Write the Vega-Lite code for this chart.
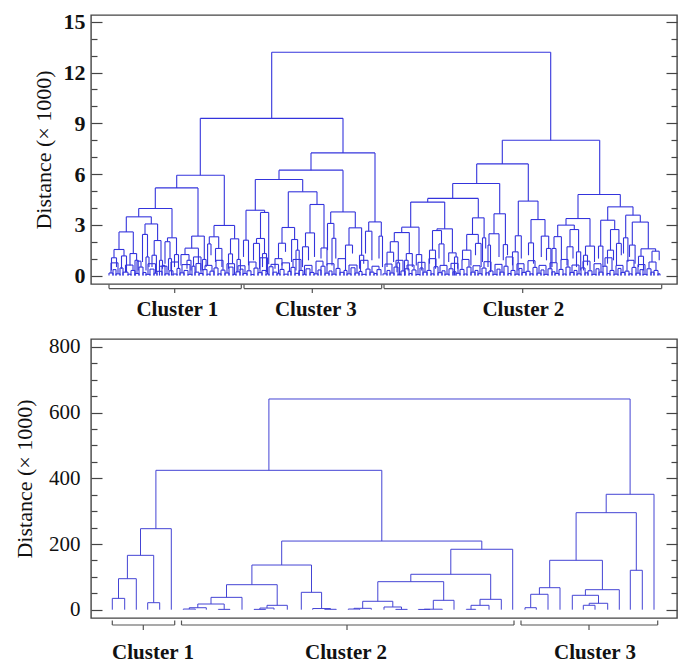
{
"$schema": "https://vega.github.io/schema/vega-lite/v6.json",
"padding": {"left": 12, "top": 10, "right": 0, "bottom": 0},
"background": "white",
"spacing": 55,
"bounds": "flush",
"config": {
  "view": {"stroke": "#444", "strokeWidth": 1.4},
  "axis": {"grid": false, "domain": false, "tickColor": "#444", "tickWidth": 1.2, "labelColor": "#111", "titleColor": "#111", "labelFont": "Liberation Serif", "titleFont": "Liberation Serif"}
},
"datasets": {
  "top": [
{"l":272.7,"r":551.7,"h":13.2,"a":9.29,"b":8.0},
{"l":201.3,"r":344,"h":9.29,"a":5.93,"b":7.25},
{"l":177.7,"r":225.3,"h":5.93,"a":5.18,"b":2.96},
{"l":156.3,"r":199,"h":5.18,"a":3.96,"b":2.33},
{"l":139.7,"r":173,"h":3.96,"a":3.47,"b":2.23},
{"l":127.3,"r":152.3,"h":3.47,"a":2.58,"b":3.05},
{"l":120,"r":134.3,"h":2.58,"a":1.54,"b":1.3},
{"l":115,"r":125,"h":1.54,"a":1.05,"b":1.16},
{"l":112.5,"r":117.5,"h":1.05,"a":0.3,"b":0.5},
{"l":122.5,"r":127.5,"h":1.16,"a":0.4,"b":0.2},
{"l":131,"r":137.6,"h":1.3,"a":0.6,"b":0.9},
{"l":136,"r":139.2,"h":0.9,"a":0,"b":0.3},
{"l":146,"r":158.6,"h":3.05,"a":2.43,"b":2.07},
{"l":143.5,"r":148.5,"h":2.43,"a":0.8,"b":1.1},
{"l":147,"r":150,"h":1.1,"a":0.3,"b":0.5},
{"l":155.2,"r":162,"h":2.07,"a":1.2,"b":0.9},
{"l":153,"r":157.4,"h":1.2,"a":0.5,"b":0.2},
{"l":160.5,"r":163.5,"h":0.9,"a":0,"b":0.4},
{"l":168.5,"r":177.5,"h":2.23,"a":2.0,"b":1.24},
{"l":166,"r":171,"h":2.0,"a":0.7,"b":1.0},
{"l":169.5,"r":172.5,"h":1.0,"a":0.3,"b":0},
{"l":175.5,"r":179.5,"h":1.24,"a":0.5,"b":0.8},
{"l":192.7,"r":205.3,"h":2.33,"a":1.62,"b":0.95},
{"l":186,"r":199.4,"h":1.62,"a":1.24,"b":0.71},
{"l":182,"r":190,"h":1.24,"a":0.6,"b":0.9},
{"l":188,"r":192,"h":0.9,"a":0.4,"b":0.3},
{"l":197,"r":201.8,"h":0.71,"a":0.2,"b":0.3},
{"l":203.5,"r":207.1,"h":0.95,"a":0.3,"b":0.5},
{"l":215,"r":235.6,"h":2.96,"a":2.29,"b":2.17},
{"l":210.3,"r":219.7,"h":2.29,"a":1.87,"b":1.6},
{"l":208.6,"r":212,"h":1.87,"a":0.6,"b":1.2},
{"l":216.5,"r":222.9,"h":1.6,"a":0.8,"b":0.5},
{"l":231.5,"r":239.7,"h":2.17,"a":1.28,"b":0.95},
{"l":229.5,"r":233.5,"h":1.28,"a":0.4,"b":0.7},
{"l":238,"r":241.4,"h":0.95,"a":0.2,"b":0.3},
{"l":312,"r":376,"h":7.25,"a":6.23,"b":3.17},
{"l":280,"r":344,"h":6.23,"a":5.68,"b":3.76},
{"l":256.3,"r":303.7,"h":5.68,"a":3.86,"b":4.95},
{"l":247,"r":265.6,"h":3.86,"a":2.09,"b":3.73},
{"l":244.5,"r":249.5,"h":2.09,"a":1.1,"b":0.6},
{"l":261.5,"r":269.7,"h":3.73,"a":2.19,"b":0.67},
{"l":257.5,"r":265.5,"h":2.19,"a":1.9,"b":1.3},
{"l":254.5,"r":260.5,"h":1.9,"a":0.9,"b":0.4},
{"l":263.5,"r":267.5,"h":1.3,"a":0.5,"b":0.2},
{"l":289.3,"r":318,"h":4.95,"a":2.84,"b":4.2},
{"l":283,"r":295.6,"h":2.84,"a":1.91,"b":2.13},
{"l":279.5,"r":286.5,"h":1.91,"a":1.0,"b":1.4},
{"l":276,"r":283,"h":1.0,"a":0.4,"b":0.6},
{"l":292.6,"r":298.6,"h":2.13,"a":0.8,"b":1.5},
{"l":297,"r":300.2,"h":1.5,"a":0.3,"b":0},
{"l":311,"r":325,"h":4.2,"a":2.52,"b":1.63},
{"l":306.5,"r":315.5,"h":2.52,"a":1.7,"b":1.1},
{"l":303.5,"r":309.5,"h":1.7,"a":0.5,"b":0.9},
{"l":322,"r":328,"h":1.63,"a":1.0,"b":0.6},
{"l":331.7,"r":356.3,"h":3.76,"a":3.08,"b":2.82},
{"l":328.5,"r":334.9,"h":3.08,"a":1.5,"b":2.2},
{"l":333,"r":336.8,"h":2.2,"a":0.6,"b":1.0},
{"l":350,"r":362.6,"h":2.82,"a":1.8,"b":1.2},
{"l":346.5,"r":353.5,"h":1.8,"a":0.9,"b":1.3},
{"l":360.5,"r":364.7,"h":1.2,"a":0.4,"b":0.7},
{"l":369.7,"r":382.3,"h":3.17,"a":2.62,"b":2.33},
{"l":366.5,"r":372.9,"h":2.62,"a":1.3,"b":0.9},
{"l":380,"r":383.5,"h":2.33,"a":1.0,"b":0.5},
{"l":503.3,"r":600.7,"h":8.0,"a":6.6,"b":4.79},
{"l":477.7,"r":529.3,"h":6.6,"a":5.44,"b":4.4},
{"l":453.7,"r":500.7,"h":5.44,"a":4.56,"b":3.65},
{"l":428.7,"r":479.3,"h":4.56,"a":4.34,"b":3.41},
{"l":411.7,"r":445.7,"h":4.34,"a":2.86,"b":2.76},
{"l":402.7,"r":420,"h":2.86,"a":2.54,"b":1.24},
{"l":395.3,"r":410.3,"h":2.54,"a":2.0,"b":1.3},
{"l":391.3,"r":399.3,"h":2.0,"a":1.38,"b":0.75},
{"l":388,"r":394.6,"h":1.38,"a":0.5,"b":0.8},
{"l":398,"r":400.6,"h":0.75,"a":0.2,"b":0},
{"l":407.3,"r":413.3,"h":1.3,"a":0.9,"b":0.5},
{"l":405.5,"r":409.1,"h":0.9,"a":0,"b":0.3},
{"l":417.3,"r":422.7,"h":1.24,"a":0.6,"b":0.3},
{"l":438,"r":453.4,"h":2.76,"a":2.66,"b":1.34},
{"l":433.5,"r":442.5,"h":2.66,"a":1.5,"b":1.87},
{"l":430.5,"r":436.5,"h":1.5,"a":0.7,"b":0.4},
{"l":440,"r":445,"h":1.87,"a":1.0,"b":0.6},
{"l":449.7,"r":457.1,"h":1.34,"a":0.8,"b":1.1},
{"l":455.5,"r":458.7,"h":1.1,"a":0,"b":0.4},
{"l":473.5,"r":485.1,"h":3.41,"a":2.43,"b":2.23},
{"l":467.7,"r":479.3,"h":2.43,"a":1.5,"b":1.9},
{"l":463.5,"r":471.9,"h":1.5,"a":0.9,"b":0.6},
{"l":476.5,"r":482.1,"h":1.9,"a":1.2,"b":0.5},
{"l":483.5,"r":486.7,"h":2.23,"a":0.8,"b":1.6},
{"l":495,"r":506.4,"h":3.65,"a":2.47,"b":1.83},
{"l":490,"r":500,"h":2.47,"a":1.8,"b":1.1},
{"l":489,"r":491.5,"h":1.8,"a":0.5,"b":0.2},
{"l":504.3,"r":508.5,"h":1.83,"a":0.9,"b":1.2},
{"l":519.3,"r":539,"h":4.4,"a":2.35,"b":3.31},
{"l":516.3,"r":522.3,"h":2.35,"a":1.4,"b":1.0},
{"l":513.5,"r":519.1,"h":1.4,"a":0.6,"b":0.3},
{"l":532,"r":546,"h":3.31,"a":1.93,"b":2.33},
{"l":529.5,"r":534.5,"h":1.93,"a":1.2,"b":0.7},
{"l":542.3,"r":549.7,"h":2.33,"a":1.1,"b":1.6},
{"l":547.5,"r":551.9,"h":1.6,"a":0.9,"b":0.4},
{"l":579,"r":621.3,"h":4.79,"a":3.37,"b":4.06},
{"l":567,"r":591,"h":3.37,"a":2.98,"b":1.74},
{"l":558.7,"r":575.3,"h":2.98,"a":2.3,"b":2.72},
{"l":555,"r":562.4,"h":2.3,"a":1.6,"b":0.9},
{"l":553,"r":557,"h":1.6,"a":0.5,"b":0.8},
{"l":571,"r":579.6,"h":2.72,"a":1.7,"b":1.4},
{"l":568,"r":574,"h":1.7,"a":0.6,"b":1.0},
{"l":577.5,"r":581.7,"h":1.4,"a":0.5,"b":0.3},
{"l":586.5,"r":595.5,"h":1.74,"a":1.2,"b":0.8},
{"l":584.5,"r":588.5,"h":1.2,"a":0.3,"b":0.6},
{"l":608.7,"r":634,"h":4.06,"a":3.27,"b":3.57},
{"l":601.7,"r":615.7,"h":3.27,"a":1.74,"b":2.72},
{"l":599.5,"r":603.9,"h":1.74,"a":1.0,"b":0.5},
{"l":611.5,"r":619.9,"h":2.72,"a":1.5,"b":1.9},
{"l":608.5,"r":614.5,"h":1.5,"a":0.7,"b":0.9},
{"l":617.5,"r":622.3,"h":1.9,"a":0.6,"b":1.2},
{"l":626.7,"r":641.3,"h":3.57,"a":2.23,"b":3.16},
{"l":624.5,"r":628.9,"h":2.23,"a":1.3,"b":0.8},
{"l":633.3,"r":649.3,"h":3.16,"a":1.8,"b":1.58},
{"l":630.5,"r":636.1,"h":1.8,"a":1.1,"b":0.7},
{"l":642,"r":656.6,"h":1.58,"a":1.14,"b":1.44},
{"l":639.5,"r":644.5,"h":1.14,"a":0.5,"b":0.3},
{"l":653,"r":660.2,"h":1.44,"a":0.8,"b":0.9},
{"l":112,"r":119,"h":0.75,"a":0.15,"b":0.1},
{"l":126.5,"r":134,"h":0.62,"a":0.2,"b":0.3},
{"l":138,"r":142,"h":0.85,"a":0.12,"b":0.5},
{"l":149,"r":156.5,"h":0.7,"a":0.07,"b":0.14},
{"l":160.5,"r":168,"h":0.55,"a":0.25,"b":0.1},
{"l":172,"r":179.5,"h":0.8,"a":0.28,"b":0.42},
{"l":183,"r":191,"h":0.65,"a":0.16,"b":0.07},
{"l":194.5,"r":202,"h":1.1,"a":0.55,"b":0.12},
{"l":206,"r":213,"h":0.6,"a":0.35,"b":0.26},
{"l":217,"r":224,"h":0.9,"a":0.45,"b":0.32},
{"l":228,"r":235.5,"h":0.7,"a":0.15,"b":0.07},
{"l":239,"r":246,"h":0.58,"a":0.22,"b":0.12},
{"l":250,"r":257,"h":0.8,"a":0.28,"b":0.44},
{"l":261,"r":268.5,"h":1.05,"a":0.17,"b":0.09},
{"l":272,"r":279.5,"h":0.66,"a":0.52,"b":0.11},
{"l":283,"r":290.5,"h":0.75,"a":0.36,"b":0.25},
{"l":294,"r":302,"h":0.95,"a":0.48,"b":0.3},
{"l":305.5,"r":313,"h":0.6,"a":0.07,"b":0.18},
{"l":317,"r":324,"h":0.85,"a":0.1,"b":0.55},
{"l":328,"r":335,"h":0.7,"a":0.14,"b":0.08},
{"l":339,"r":346.5,"h":1.0,"a":0.42,"b":0.3},
{"l":350,"r":358,"h":0.62,"a":0.1,"b":0.15},
{"l":361.5,"r":369,"h":0.9,"a":0.24,"b":0.38},
{"l":373,"r":380,"h":0.55,"a":0.2,"b":0.35},
{"l":386,"r":393,"h":0.68,"a":0.1,"b":0.15},
{"l":397,"r":404,"h":0.9,"a":0.5,"b":0.27},
{"l":408,"r":415,"h":0.62,"a":0.4,"b":0.33},
{"l":419,"r":426,"h":0.78,"a":0.06,"b":0.2},
{"l":430,"r":437,"h":1.0,"a":0.3,"b":0.52},
{"l":441,"r":448,"h":0.6,"a":0.17,"b":0.08},
{"l":452,"r":459,"h":0.72,"a":0.4,"b":0.13},
{"l":463,"r":470,"h":0.95,"a":0.36,"b":0.5},
{"l":474,"r":481,"h":0.58,"a":0.2,"b":0.11},
{"l":485,"r":492,"h":0.82,"a":0.44,"b":0.27},
{"l":496,"r":503,"h":0.66,"a":0.07,"b":0.2},
{"l":507,"r":514,"h":1.1,"a":0.55,"b":0.3},
{"l":518,"r":525,"h":0.7,"a":0.08,"b":0.18},
{"l":529,"r":536,"h":0.88,"a":0.25,"b":0.48},
{"l":540,"r":547,"h":0.6,"a":0.14,"b":0.07},
{"l":551,"r":558,"h":0.76,"a":0.4,"b":0.12},
{"l":562,"r":569,"h":0.95,"a":0.36,"b":0.5},
{"l":573,"r":580,"h":0.62,"a":0.18,"b":0.1},
{"l":584,"r":591,"h":0.85,"a":0.45,"b":0.28},
{"l":595,"r":602,"h":0.7,"a":0.07,"b":0.2},
{"l":606,"r":613,"h":1.05,"a":0.55,"b":0.3},
{"l":617,"r":624,"h":0.6,"a":0.08,"b":0.18},
{"l":628,"r":635,"h":0.9,"a":0.26,"b":0.48},
{"l":639,"r":646,"h":0.65,"a":0.14,"b":0.07},
{"l":650,"r":657,"h":0.8,"a":0.4,"b":0.3},
{"l":110,"r":114,"h":0.15,"a":0,"b":0},{"l":114,"r":117,"h":0.35,"a":0,"b":0},{"l":117,"r":121,"h":0.1,"a":0,"b":0},{"l":121,"r":124,"h":0.45,"a":0,"b":0},{"l":124,"r":129,"h":0.2,"a":0,"b":0},{"l":129,"r":132,"h":0.08,"a":0,"b":0},{"l":132,"r":136,"h":0.3,"a":0,"b":0},{"l":136,"r":140,"h":0.12,"a":0,"b":0},{"l":140,"r":144,"h":0.5,"a":0,"b":0},{"l":144,"r":147,"h":0.18,"a":0,"b":0},
{"l":147,"r":151,"h":0.07,"a":0,"b":0},{"l":151,"r":155,"h":0.38,"a":0,"b":0},{"l":155,"r":158,"h":0.14,"a":0,"b":0},{"l":158,"r":163,"h":0.25,"a":0,"b":0},{"l":163,"r":166,"h":0.6,"a":0,"b":0},{"l":166,"r":170,"h":0.1,"a":0,"b":0},{"l":170,"r":174,"h":0.28,"a":0,"b":0},{"l":174,"r":178,"h":0.09,"a":0,"b":0},{"l":178,"r":181,"h":0.42,"a":0,"b":0},{"l":181,"r":185,"h":0.16,"a":0,"b":0},
{"l":185,"r":189,"h":0.3,"a":0,"b":0},{"l":189,"r":193,"h":0.07,"a":0,"b":0},{"l":193,"r":196,"h":0.55,"a":0,"b":0},{"l":196,"r":200,"h":0.2,"a":0,"b":0},{"l":200,"r":204,"h":0.12,"a":0,"b":0},{"l":204,"r":208,"h":0.35,"a":0,"b":0},{"l":208,"r":211,"h":0.08,"a":0,"b":0},{"l":211,"r":215,"h":0.26,"a":0,"b":0},{"l":215,"r":219,"h":0.45,"a":0,"b":0},{"l":219,"r":222,"h":0.1,"a":0,"b":0},
{"l":222,"r":226,"h":0.32,"a":0,"b":0},{"l":226,"r":230,"h":0.15,"a":0,"b":0},{"l":230,"r":234,"h":0.5,"a":0,"b":0},{"l":234,"r":237,"h":0.07,"a":0,"b":0},{"l":237,"r":241,"h":0.22,"a":0,"b":0},{"l":241,"r":244,"h":0.38,"a":0,"b":0},{"l":244,"r":248,"h":0.12,"a":0,"b":0},{"l":248,"r":252,"h":0.28,"a":0,"b":0},{"l":252,"r":255,"h":0.06,"a":0,"b":0},{"l":255,"r":259,"h":0.44,"a":0,"b":0},
{"l":259,"r":263,"h":0.17,"a":0,"b":0},{"l":263,"r":267,"h":0.3,"a":0,"b":0},{"l":267,"r":270,"h":0.09,"a":0,"b":0},{"l":270,"r":274,"h":0.52,"a":0,"b":0},{"l":274,"r":278,"h":0.2,"a":0,"b":0},{"l":278,"r":281,"h":0.11,"a":0,"b":0},{"l":281,"r":285,"h":0.36,"a":0,"b":0},{"l":285,"r":289,"h":0.08,"a":0,"b":0},{"l":289,"r":292,"h":0.25,"a":0,"b":0},{"l":292,"r":296,"h":0.48,"a":0,"b":0},
{"l":296,"r":300,"h":0.13,"a":0,"b":0},{"l":300,"r":304,"h":0.3,"a":0,"b":0},{"l":304,"r":307,"h":0.07,"a":0,"b":0},{"l":307,"r":311,"h":0.4,"a":0,"b":0},{"l":311,"r":315,"h":0.18,"a":0,"b":0},{"l":315,"r":319,"h":0.1,"a":0,"b":0},{"l":319,"r":322,"h":0.33,"a":0,"b":0},{"l":322,"r":326,"h":0.55,"a":0,"b":0},{"l":326,"r":330,"h":0.14,"a":0,"b":0},{"l":330,"r":333,"h":0.27,"a":0,"b":0},
{"l":333,"r":337,"h":0.08,"a":0,"b":0},{"l":337,"r":341,"h":0.42,"a":0,"b":0},{"l":341,"r":345,"h":0.19,"a":0,"b":0},{"l":345,"r":348,"h":0.3,"a":0,"b":0},{"l":348,"r":352,"h":0.1,"a":0,"b":0},{"l":352,"r":356,"h":0.46,"a":0,"b":0},{"l":356,"r":360,"h":0.15,"a":0,"b":0},{"l":360,"r":363,"h":0.24,"a":0,"b":0},{"l":363,"r":367,"h":0.07,"a":0,"b":0},{"l":367,"r":371,"h":0.38,"a":0,"b":0},
{"l":371,"r":375,"h":0.2,"a":0,"b":0},{"l":375,"r":378,"h":0.12,"a":0,"b":0},{"l":378,"r":382,"h":0.35,"a":0,"b":0},{"l":384,"r":388,"h":0.1,"a":0,"b":0},{"l":388,"r":391,"h":0.3,"a":0,"b":0},{"l":391,"r":395,"h":0.15,"a":0,"b":0},{"l":395,"r":399,"h":0.5,"a":0,"b":0},{"l":399,"r":402,"h":0.08,"a":0,"b":0},{"l":402,"r":406,"h":0.27,"a":0,"b":0},{"l":406,"r":410,"h":0.4,"a":0,"b":0},
{"l":410,"r":413,"h":0.12,"a":0,"b":0},{"l":413,"r":417,"h":0.33,"a":0,"b":0},{"l":417,"r":421,"h":0.06,"a":0,"b":0},{"l":421,"r":424,"h":0.45,"a":0,"b":0},{"l":424,"r":428,"h":0.2,"a":0,"b":0},{"l":428,"r":432,"h":0.3,"a":0,"b":0},{"l":432,"r":435,"h":0.1,"a":0,"b":0},{"l":435,"r":439,"h":0.52,"a":0,"b":0},{"l":439,"r":443,"h":0.17,"a":0,"b":0},{"l":443,"r":446,"h":0.28,"a":0,"b":0},
{"l":446,"r":450,"h":0.08,"a":0,"b":0},{"l":450,"r":454,"h":0.4,"a":0,"b":0},{"l":454,"r":457,"h":0.22,"a":0,"b":0},{"l":457,"r":461,"h":0.13,"a":0,"b":0},{"l":461,"r":465,"h":0.36,"a":0,"b":0},{"l":465,"r":468,"h":0.09,"a":0,"b":0},{"l":468,"r":472,"h":0.5,"a":0,"b":0},{"l":472,"r":476,"h":0.2,"a":0,"b":0},{"l":476,"r":479,"h":0.3,"a":0,"b":0},{"l":479,"r":483,"h":0.11,"a":0,"b":0},
{"l":483,"r":487,"h":0.44,"a":0,"b":0},{"l":487,"r":490,"h":0.16,"a":0,"b":0},{"l":490,"r":494,"h":0.27,"a":0,"b":0},{"l":494,"r":498,"h":0.07,"a":0,"b":0},{"l":498,"r":501,"h":0.38,"a":0,"b":0},{"l":501,"r":505,"h":0.2,"a":0,"b":0},{"l":505,"r":509,"h":0.55,"a":0,"b":0},{"l":509,"r":512,"h":0.12,"a":0,"b":0},{"l":512,"r":516,"h":0.3,"a":0,"b":0},{"l":516,"r":520,"h":0.08,"a":0,"b":0},
{"l":520,"r":523,"h":0.42,"a":0,"b":0},{"l":523,"r":527,"h":0.18,"a":0,"b":0},{"l":527,"r":531,"h":0.25,"a":0,"b":0},{"l":531,"r":534,"h":0.1,"a":0,"b":0},{"l":534,"r":538,"h":0.48,"a":0,"b":0},{"l":538,"r":542,"h":0.14,"a":0,"b":0},{"l":542,"r":545,"h":0.33,"a":0,"b":0},{"l":545,"r":549,"h":0.07,"a":0,"b":0},{"l":549,"r":553,"h":0.4,"a":0,"b":0},{"l":553,"r":556,"h":0.22,"a":0,"b":0},
{"l":556,"r":560,"h":0.12,"a":0,"b":0},{"l":560,"r":564,"h":0.36,"a":0,"b":0},{"l":564,"r":567,"h":0.09,"a":0,"b":0},{"l":567,"r":571,"h":0.5,"a":0,"b":0},{"l":571,"r":575,"h":0.18,"a":0,"b":0},{"l":575,"r":578,"h":0.3,"a":0,"b":0},{"l":578,"r":582,"h":0.1,"a":0,"b":0},{"l":582,"r":586,"h":0.45,"a":0,"b":0},{"l":586,"r":589,"h":0.16,"a":0,"b":0},{"l":589,"r":593,"h":0.28,"a":0,"b":0},
{"l":593,"r":597,"h":0.07,"a":0,"b":0},{"l":597,"r":600,"h":0.4,"a":0,"b":0},{"l":600,"r":604,"h":0.2,"a":0,"b":0},{"l":604,"r":608,"h":0.55,"a":0,"b":0},{"l":608,"r":611,"h":0.12,"a":0,"b":0},{"l":611,"r":615,"h":0.3,"a":0,"b":0},{"l":615,"r":619,"h":0.08,"a":0,"b":0},{"l":619,"r":622,"h":0.42,"a":0,"b":0},{"l":622,"r":626,"h":0.18,"a":0,"b":0},{"l":626,"r":630,"h":0.26,"a":0,"b":0},
{"l":630,"r":633,"h":0.1,"a":0,"b":0},{"l":633,"r":637,"h":0.48,"a":0,"b":0},{"l":637,"r":641,"h":0.14,"a":0,"b":0},{"l":641,"r":644,"h":0.35,"a":0,"b":0},{"l":644,"r":648,"h":0.07,"a":0,"b":0},{"l":648,"r":652,"h":0.4,"a":0,"b":0},{"l":652,"r":655,"h":0.2,"a":0,"b":0},{"l":655,"r":659,"h":0.3,"a":0,"b":0},{"l":659,"r":661,"h":0.1,"a":0,"b":0}
  ],
  "bot": [
{"l":113.3,"r":125.7,"h":34.5,"a":0,"b":0},
{"l":119.5,"r":137.3,"h":94.4,"a":34.5,"b":0},
{"l":148.7,"r":160.7,"h":21.3,"a":0,"b":0},
{"l":128.4,"r":154.7,"h":165.5,"a":94.4,"b":21.3},
{"l":141.5,"r":172.3,"h":246.7,"a":165.5,"b":0},
{"l":184.3,"r":196.3,"h":2,"a":0,"b":0},
{"l":190.3,"r":207.3,"h":6,"a":2,"b":0},
{"l":219.3,"r":231,"h":1,"a":0,"b":0},
{"l":198.8,"r":225.2,"h":17.3,"a":6,"b":1},
{"l":212,"r":243,"h":37.6,"a":17.3,"b":0},
{"l":255,"r":266.7,"h":1,"a":0,"b":0},
{"l":260.9,"r":275,"h":5,"a":1,"b":0},
{"l":268,"r":288.3,"h":13.3,"a":5,"b":0},
{"l":227.5,"r":278.2,"h":76.1,"a":37.6,"b":13.3},
{"l":325.7,"r":337.3,"h":1.2,"a":0,"b":0},
{"l":313.7,"r":331.5,"h":3.5,"a":0,"b":1.2},
{"l":302.3,"r":322.6,"h":52.9,"a":0,"b":3.5},
{"l":252.9,"r":312.5,"h":136,"a":76.1,"b":52.9},
{"l":349.3,"r":360.7,"h":2,"a":0,"b":0},
{"l":355,"r":372.3,"h":4.2,"a":2,"b":0},
{"l":396.7,"r":408.3,"h":1,"a":0,"b":0},
{"l":385,"r":402.5,"h":8.2,"a":0,"b":1},
{"l":363.7,"r":393.8,"h":25.6,"a":4.2,"b":8.2},
{"l":419.3,"r":431,"h":0.8,"a":0,"b":0},
{"l":425.2,"r":443.3,"h":1.5,"a":0.8,"b":0},
{"l":434.3,"r":455,"h":28.6,"a":1.5,"b":0},
{"l":378.8,"r":444.7,"h":85.3,"a":25.6,"b":28.6},
{"l":467.3,"r":476.7,"h":1.2,"a":0,"b":0},
{"l":472,"r":490,"h":13.3,"a":1.2,"b":0},
{"l":481,"r":502.3,"h":31.6,"a":13.3,"b":0},
{"l":411.8,"r":491.7,"h":107.8,"a":85.3,"b":31.6},
{"l":451.8,"r":513.7,"h":184,"a":107.8,"b":0},
{"l":282.7,"r":482.8,"h":209,"a":136,"b":184},
{"l":156.9,"r":382.8,"h":424.4,"a":246.7,"b":209},
{"l":526,"r":537.3,"h":6.1,"a":0,"b":0},
{"l":531.7,"r":549,"h":46.9,"a":6.1,"b":0},
{"l":540.4,"r":561,"h":67,"a":46.9,"b":0},
{"l":584.3,"r":596,"h":13.4,"a":0,"b":0},
{"l":590.2,"r":608.7,"h":19.5,"a":13.4,"b":0},
{"l":573.3,"r":599.5,"h":43.8,"a":0,"b":19.5},
{"l":586.4,"r":620.3,"h":60.9,"a":43.8,"b":0},
{"l":550.7,"r":603.4,"h":150.4,"a":67,"b":60.9},
{"l":631.3,"r":643.3,"h":120,"a":0,"b":0},
{"l":577.1,"r":637.3,"h":295.4,"a":150.4,"b":120},
{"l":607.2,"r":655,"h":351.4,"a":295.4,"b":0},
{"l":269.9,"r":631.1,"h":641.6,"a":424.4,"b":351.4}
  ],
  "topc": [
{"name":"Cluster 1","s":110,"e":242.3,"c":175.7,"t":178.3},
{"name":"Cluster 3","s":245,"e":382.7,"c":313.3,"t":316.8},
{"name":"Cluster 2","s":385,"e":662.7,"c":523.7,"t":524.3}
  ],
  "botc": [
{"name":"Cluster 1","s":113.3,"e":175.7,"c":144.3,"t":154},
{"name":"Cluster 2","s":182.5,"e":515,"c":348,"t":347},
{"name":"Cluster 3","s":522,"e":658.7,"c":590,"t":596}
  ]
},
"vconcat": [
{
  "width": 586, "height": 269,
  "data": {"name": "top"},
  "resolve": {"axis": {"y": "independent"}},
  "layer": [
    {"mark": {"type": "rule", "stroke": "#3434dc", "strokeWidth": 1.1},
     "encoding": {
       "x": {"field": "l", "type": "quantitative", "scale": {"domain": [92, 678], "nice": false, "zero": false}, "axis": null},
       "x2": {"field": "r"},
       "y": {"field": "h", "type": "quantitative", "scale": {"domain": [-0.5, 15.4], "nice": false, "zero": false},
             "axis": {"orient": "left", "values": [0,3,6,9,12,15], "format": "d", "ticks": false, "tickSize": 0, "labelPadding": 6, "labelFontSize": 22, "labelFontWeight": "bold", "title": "Distance (× 1000)", "titleFontSize": 22, "titleFontWeight": "normal", "titleX": -36}}}},
    {"mark": {"type": "rule", "stroke": "#3434dc", "strokeWidth": 1.1},
     "encoding": {
       "x": {"field": "l", "type": "quantitative", "axis": null},
       "y": {"field": "a", "type": "quantitative", "axis": {"orient": "right", "offset": -586, "values": [0,3,6,9,12,15], "labels": false, "title": null, "tickSize": 11}},
       "y2": {"field": "h"}}},
    {"mark": {"type": "rule", "stroke": "#3434dc", "strokeWidth": 1.1},
     "encoding": {
       "x": {"field": "r", "type": "quantitative", "axis": null},
       "y": {"field": "b", "type": "quantitative", "axis": {"orient": "right", "offset": -586, "values": [1,2,4,5,7,8,10,11,13,14], "labels": false, "title": null, "tickSize": 6}},
       "y2": {"field": "h"}}},
    {"data": {"name": "topc"},
     "mark": {"type": "rule", "stroke": "#555", "strokeWidth": 1.2},
     "encoding": {
       "x": {"field": "s", "type": "quantitative", "axis": null},
       "x2": {"field": "e"},
       "y": {"datum": -0.77, "type": "quantitative", "axis": {"orient": "left", "offset": -586, "values": [0,3,6,9,12,15], "labels": false, "title": null, "tickSize": 11}}}},
    {"data": {"name": "topc"},
     "mark": {"type": "rule", "stroke": "#555", "strokeWidth": 1.2},
     "encoding": {
       "x": {"field": "s", "type": "quantitative", "axis": null},
       "y": {"datum": -0.53, "type": "quantitative", "axis": {"orient": "left", "offset": -586, "values": [1,2,4,5,7,8,10,11,13,14], "labels": false, "title": null, "tickSize": 6}},
       "y2": {"datum": -0.77}}},
    {"data": {"name": "topc"},
     "mark": {"type": "rule", "stroke": "#555", "strokeWidth": 1.2},
     "encoding": {
       "x": {"field": "e", "type": "quantitative", "axis": null},
       "y": {"datum": -0.53, "type": "quantitative", "axis": null},
       "y2": {"datum": -0.77}}},
    {"data": {"name": "topc"},
     "mark": {"type": "rule", "stroke": "#555", "strokeWidth": 1.2},
     "encoding": {
       "x": {"field": "c", "type": "quantitative", "axis": null},
       "y": {"datum": -0.77, "type": "quantitative", "axis": null},
       "y2": {"datum": -1.03}}},
    {"data": {"name": "topc"},
     "mark": {"type": "text", "font": "Liberation Serif", "fontSize": 21, "fontWeight": "bold", "color": "#111", "align": "center", "baseline": "alphabetic"},
     "encoding": {
       "x": {"field": "t", "type": "quantitative", "axis": null},
       "y": {"datum": -2.41, "type": "quantitative", "axis": null},
       "text": {"field": "name"}}}
  ]
},
{
  "width": 586, "height": 279,
  "data": {"name": "bot"},
  "resolve": {"axis": {"y": "independent"}},
  "layer": [
    {"mark": {"type": "rule", "stroke": "#4444d4", "strokeWidth": 1},
     "encoding": {
       "x": {"field": "l", "type": "quantitative", "scale": {"domain": [92, 678], "nice": false, "zero": false}, "axis": null},
       "x2": {"field": "r"},
       "y": {"field": "h", "type": "quantitative", "scale": {"domain": [-25.3, 824.3], "nice": false, "zero": false},
             "axis": {"orient": "left", "values": [0,200,400,600,800], "format": "d", "ticks": false, "tickSize": 0, "labelPadding": 11, "labelFontSize": 21, "labelFontWeight": "normal", "title": "Distance (× 1000)", "titleFontSize": 22, "titleFontWeight": "normal", "titleX": -55}}}},
    {"mark": {"type": "rule", "stroke": "#4444d4", "strokeWidth": 1},
     "encoding": {
       "x": {"field": "l", "type": "quantitative", "axis": null},
       "y": {"field": "a", "type": "quantitative", "axis": {"orient": "right", "offset": -586, "values": [0,200,400,600,800], "labels": false, "title": null, "tickSize": 11}},
       "y2": {"field": "h"}}},
    {"mark": {"type": "rule", "stroke": "#4444d4", "strokeWidth": 1},
     "encoding": {
       "x": {"field": "r", "type": "quantitative", "axis": null},
       "y": {"field": "b", "type": "quantitative", "axis": {"orient": "right", "offset": -586, "values": [50,100,150,250,300,350,450,500,550,650,700,750], "labels": false, "title": null, "tickSize": 6}},
       "y2": {"field": "h"}}},
    {"data": {"name": "botc"},
     "mark": {"type": "rule", "stroke": "#555", "strokeWidth": 1.2},
     "encoding": {
       "x": {"field": "s", "type": "quantitative", "axis": null},
       "x2": {"field": "e"},
       "y": {"datum": -46.6, "type": "quantitative", "axis": {"orient": "left", "offset": -586, "values": [0,200,400,600,800], "labels": false, "title": null, "tickSize": 11}}}},
    {"data": {"name": "botc"},
     "mark": {"type": "rule", "stroke": "#555", "strokeWidth": 1.2},
     "encoding": {
       "x": {"field": "s", "type": "quantitative", "axis": null},
       "y": {"datum": -33, "type": "quantitative", "axis": {"orient": "left", "offset": -586, "values": [50,100,150,250,300,350,450,500,550,650,700,750], "labels": false, "title": null, "tickSize": 6}},
       "y2": {"datum": -46.6}}},
    {"data": {"name": "botc"},
     "mark": {"type": "rule", "stroke": "#555", "strokeWidth": 1.2},
     "encoding": {
       "x": {"field": "e", "type": "quantitative", "axis": null},
       "y": {"datum": -33, "type": "quantitative", "axis": null},
       "y2": {"datum": -46.6}}},
    {"data": {"name": "botc"},
     "mark": {"type": "rule", "stroke": "#555", "strokeWidth": 1.2},
     "encoding": {
       "x": {"field": "c", "type": "quantitative", "axis": null},
       "y": {"datum": -46.6, "type": "quantitative", "axis": null},
       "y2": {"datum": -62}}},
    {"data": {"name": "botc"},
     "mark": {"type": "text", "font": "Liberation Serif", "fontSize": 21, "fontWeight": "bold", "color": "#111", "align": "center", "baseline": "alphabetic"},
     "encoding": {
       "x": {"field": "t", "type": "quantitative", "axis": null},
       "y": {"datum": -150, "type": "quantitative", "axis": null},
       "text": {"field": "name"}}}
  ]
}
]
}
